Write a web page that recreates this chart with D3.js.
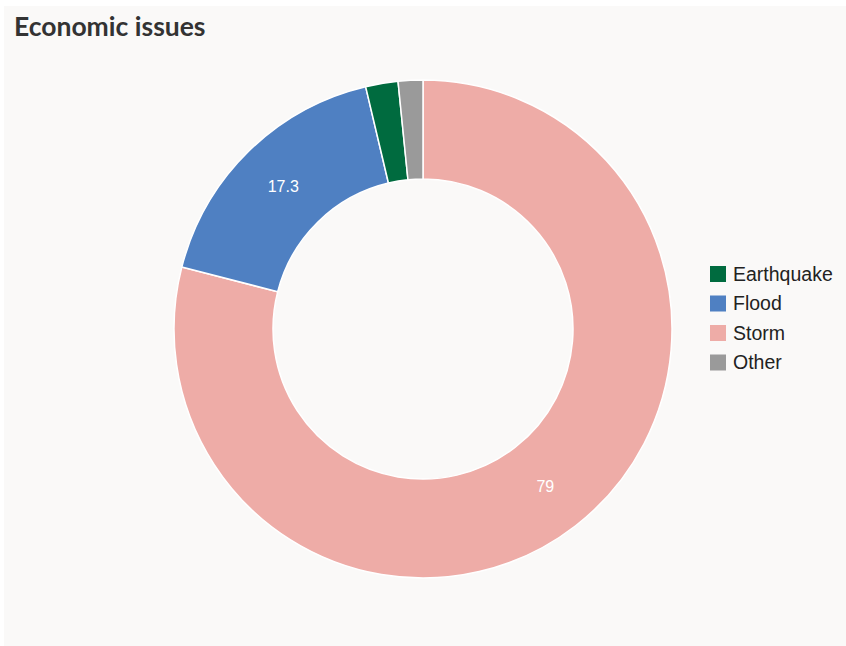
<!DOCTYPE html>
<html>
<head>
<meta charset="utf-8">
<script src="https://cdn.jsdelivr.net/npm/d3@7"></script>
<style>
  html, body { margin: 0; padding: 0; background: #ffffff; }
  svg { display: block; }
</style>
</head>
<body>
<svg id="chart" width="846" height="646"></svg>
<script>
// Share of economic losses by disaster type (%)
const categories = ["Storm", "Flood", "Earthquake", "Other"];
const values = [79, 17.3, 2.1, 1.6];
const colors = ["#eeaca7", "#4f80c2", "#006b3f", "#9a9a9a"];
const legendOrder = ["Earthquake", "Flood", "Storm", "Other"];
const labelMin = 5; // slices below this value carry no label

const W = 846, H = 646;
const svg = d3.select("#chart");

// panel background
svg.append("rect")
  .attr("x", 4).attr("y", 6)
  .attr("width", W - 4).attr("height", H - 6)
  .attr("fill", "#faf9f8");

svg.append("text")
  .attr("x", 14).attr("y", 36)
  .attr("font-family", "Lato, 'Open Sans', sans-serif")
  .attr("font-weight", 700)
  .attr("font-size", 26.5)
  .attr("fill", "#333333")
  .text("Economic issues");

const cx = 423, cy = 329, outerR = 249, innerR = 150;
const color = d3.scaleOrdinal().domain(categories).range(colors);

const data = categories.map((c, i) => ({ name: c, value: values[i] }));
const pie = d3.pie().value(d => d.value).sort(null);
const arc = d3.arc().innerRadius(innerR).outerRadius(outerR);

const g = svg.append("g").attr("transform", `translate(${cx},${cy})`);
const arcs = pie(data);

g.selectAll("path.slice")
  .data(arcs)
  .join("path")
  .attr("class", "slice")
  .attr("d", arc)
  .attr("fill", d => color(d.data.name))
  .attr("stroke", "#ffffff")
  .attr("stroke-width", 1.5)
  .attr("stroke-linejoin", "round");

g.selectAll("text.val")
  .data(arcs.filter(d => d.data.value >= labelMin))
  .join("text")
  .attr("class", "val")
  .attr("transform", d => `translate(${arc.centroid(d)})`)
  .attr("text-anchor", "middle")
  .attr("dy", "0.35em")
  .attr("font-family", "'Liberation Sans', Arial, sans-serif")
  .attr("font-size", 16)
  .attr("fill", "#ffffff")
  .text(d => d.data.value);

// legend
const legend = svg.append("g").attr("transform", "translate(710,274)");
const rowH = 29.5;
const items = legend.selectAll("g.item")
  .data(legendOrder)
  .join("g")
  .attr("class", "item")
  .attr("transform", (d, i) => `translate(0,${i * rowH})`);

items.append("rect")
  .attr("x", 0).attr("y", -8)
  .attr("width", 16).attr("height", 16)
  .attr("fill", d => color(d));

items.append("text")
  .attr("x", 23).attr("y", 0)
  .attr("dy", "0.35em")
  .attr("font-family", "'Liberation Sans', Arial, sans-serif")
  .attr("font-size", 19.5)
  .attr("fill", "#222222")
  .text(d => d);
</script>
</body>
</html>
